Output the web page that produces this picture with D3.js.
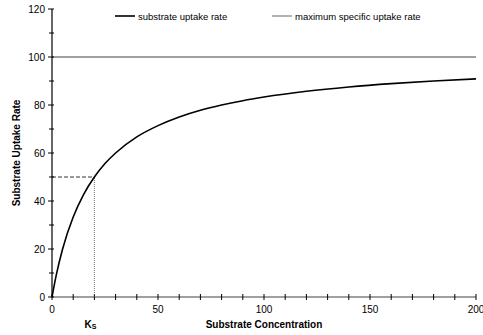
<!DOCTYPE html>
<html>
<head>
<meta charset="utf-8">
<script src="https://cdn.jsdelivr.net/npm/d3@7"></script>
<style>
  body { margin: 0; background: #fff; }
  svg { font-family: "Liberation Sans", Arial, sans-serif; }
</style>
</head>
<body>
<svg width="483" height="335"></svg>
<script>
// substrate concentration (x) and uptake rate (y)
const concentration = [0, 2, 5, 10, 15, 20, 25, 30, 40, 50, 60, 70, 80, 90, 100, 120, 140, 160, 180, 200];
const uptakeRate = [0, 9.1, 20, 33.3, 42.9, 50, 55.6, 60, 66.7, 71.4, 75, 77.8, 80, 81.8, 83.3, 85.7, 87.5, 88.9, 90, 90.9];
const maxRate = 100;
const ks = 20;
const halfRate = 50;
const xTicks = [0, 50, 100, 150, 200];
const yTicks = [0, 20, 40, 60, 80, 100, 120];
const legendLabels = ["substrate uptake rate", "maximum specific uptake rate"];

const svg = d3.select("svg");
const margin = {top: 9, right: 7, bottom: 38, left: 52};
const width = 483, height = 335;

const x = d3.scaleLinear().domain([0, 200]).range([margin.left, width - margin.right]);
const y = d3.scaleLinear().domain([0, 120]).range([height - margin.bottom, margin.top]);

// minor ticks every 10
const xMinor = d3.range(0, 201, 10);
const yMinor = d3.range(0, 121, 10);

// x axis
const gx = svg.append("g");
gx.append("line")
  .attr("x1", x(0)).attr("x2", x(200))
  .attr("y1", y(0)).attr("y2", y(0))
  .attr("stroke", "#808080").attr("stroke-width", 1.5);
gx.selectAll("line.tick").data(xMinor).enter().append("line")
  .attr("x1", d => x(d)).attr("x2", d => x(d))
  .attr("y1", y(0) - 3).attr("y2", y(0) + 3)
  .attr("stroke", "#000").attr("stroke-width", 1);
gx.selectAll("text").data(xTicks).enter().append("text")
  .attr("x", d => x(d)).attr("y", y(0) + 16)
  .attr("text-anchor", "middle").attr("font-size", 10).attr("fill", "#000")
  .text(d => d);

// horizontal line at max rate
svg.append("line")
  .attr("x1", x(0)).attr("x2", x(200))
  .attr("y1", y(maxRate)).attr("y2", y(maxRate))
  .attr("stroke", "#808080").attr("stroke-width", 1.5);

// y axis
const gy = svg.append("g");
gy.append("line")
  .attr("x1", x(0)).attr("x2", x(0))
  .attr("y1", y(0)).attr("y2", y(120))
  .attr("stroke", "#000").attr("stroke-width", 1.2);
gy.selectAll("line.tick").data(yMinor).enter().append("line")
  .attr("x1", d => x(0) - (d % 20 === 0 ? 4 : 3)).attr("x2", x(0) + 2)
  .attr("y1", d => y(d)).attr("y2", d => y(d))
  .attr("stroke", "#000").attr("stroke-width", 1);
gy.selectAll("text").data(yTicks).enter().append("text")
  .attr("x", x(0) - 7).attr("y", d => y(d) + 3.5)
  .attr("text-anchor", "end").attr("font-size", 10).attr("fill", "#000")
  .text(d => d);

// Ks guide lines
svg.append("line")
  .attr("x1", x(0)).attr("x2", x(ks))
  .attr("y1", y(halfRate)).attr("y2", y(halfRate))
  .attr("stroke", "#000").attr("stroke-width", 0.8)
  .attr("stroke-dasharray", "4,2");
svg.append("line")
  .attr("x1", x(ks)).attr("x2", x(ks))
  .attr("y1", y(0)).attr("y2", y(halfRate))
  .attr("stroke", "#555").attr("stroke-width", 0.8)
  .attr("stroke-dasharray", "1,1");

// curve
const line = d3.line()
  .x((d, i) => x(concentration[i]))
  .y(d => y(d))
  .curve(d3.curveMonotoneX);
svg.append("path")
  .datum(uptakeRate)
  .attr("d", line)
  .attr("fill", "none")
  .attr("stroke", "#000")
  .attr("stroke-width", 1.6);

// axis titles
svg.append("text")
  .attr("transform", `translate(19.5,${(y(0) + y(120)) / 2}) rotate(-90)`)
  .attr("text-anchor", "middle").attr("font-size", 10).attr("font-weight", "bold")
  .text("Substrate Uptake Rate");
svg.append("text")
  .attr("x", 264).attr("y", 328)
  .attr("text-anchor", "middle").attr("font-size", 10).attr("font-weight", "bold")
  .text("Substrate Concentration");
const ksLabel = svg.append("text")
  .attr("x", x(ks) - 4).attr("y", 328)
  .attr("text-anchor", "middle").attr("font-size", 10).attr("font-weight", "bold");
ksLabel.append("tspan").text("K");
ksLabel.append("tspan").attr("font-size", 7).attr("dy", 1).text("S");

// legend
const legendX = [115, 272];
const legendStyle = [{c: "#000", w: 1.6}, {c: "#808080", w: 1.2}];
legendLabels.forEach((label, i) => {
  svg.append("line")
    .attr("x1", legendX[i]).attr("x2", legendX[i] + 20)
    .attr("y1", 16).attr("y2", 16)
    .attr("stroke", legendStyle[i].c).attr("stroke-width", legendStyle[i].w);
  svg.append("text")
    .attr("x", legendX[i] + 23).attr("y", 19.5)
    .attr("font-size", 9.5).attr("fill", "#000")
    .text(label);
});
</script>
</body>
</html>
